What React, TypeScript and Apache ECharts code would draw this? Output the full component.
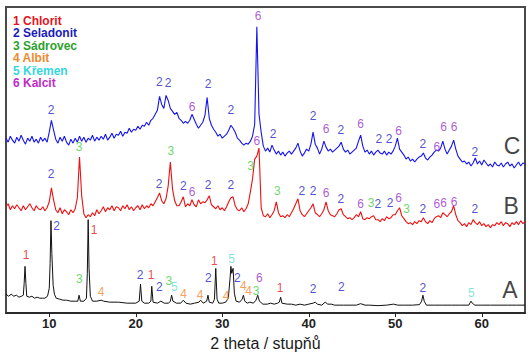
import React, { useEffect, useRef } from "react";
import * as echarts from "echarts";

// 2θ sampling grid for traces B and C (degrees)
const X_START = 5;
const X_STEP = 0.25;

// Trace C (blue), intensity (arbitrary units), one value per 0.25° from 5° to 65°
const C_VALUES = [
  176, 172, 178, 174, 171, 177, 173, 179, 174, 170, 176, 173, 178, 172, 175, 171,
  177, 173, 176, 172, 182, 194, 184, 175, 171, 177, 173, 178, 172, 169, 175, 171,
  176, 172, 178, 173, 177, 172, 176, 174, 179, 173, 177, 174, 178, 175, 180, 174,
  177, 181, 176, 180, 179, 183, 178, 182, 181, 186, 182, 185, 184, 188, 185, 189,
  188, 192, 189, 194, 196, 200, 204, 218, 210, 206, 219, 214, 206, 203, 200, 202,
  196, 194, 191, 193, 191, 194, 200, 195, 190, 186, 189, 192, 199, 217, 196, 189,
  185, 182, 178, 180, 176, 178, 180, 184, 189, 186, 182, 176, 174, 171, 169, 171,
  170, 173, 178, 190, 288, 200, 182, 168, 163, 166, 162, 169, 164, 160, 163, 159,
  162, 158, 161, 163, 160, 163, 166, 171, 163, 158, 161, 165, 163, 170, 182, 170,
  166, 160, 165, 173, 167, 163, 165, 162, 164, 166, 168, 172, 165, 162, 164, 160,
  162, 164, 166, 173, 179, 168, 162, 164, 160, 163, 159, 162, 164, 161, 160, 163,
  159, 162, 160, 163, 168, 176, 165, 162, 159, 155, 157, 153, 155, 152, 155, 157,
  158, 161, 156, 154, 157, 159, 162, 164, 163, 166, 173, 165, 160, 164, 168, 174,
  165, 158, 155, 152, 153, 150, 152, 148, 151, 156, 150, 153, 149, 154, 151, 148,
  150, 147, 152, 149, 148, 151, 147, 150, 152, 148, 150, 146, 149, 152, 148, 151,
  150,
];

// Trace B (red)
const B_VALUES = [
  107, 110, 104, 108, 105, 109, 106, 103, 108, 104, 107, 110, 106, 103, 108, 105,
  104, 107, 103, 106, 112, 126, 114, 104, 101, 106, 100, 104, 102, 99, 104, 101,
  105, 116, 157, 118, 100, 96, 99, 97, 101, 98, 104, 100, 103, 107, 102, 106,
  104, 108, 103, 107, 106, 103, 108, 105, 109, 104, 107, 103, 106, 108, 104, 109,
  105, 108, 106, 110, 108, 112, 116, 121, 113, 110, 115, 128, 152, 125, 113, 108,
  108, 112, 117, 107, 110, 108, 114, 109, 107, 114, 110, 112, 111, 114, 118, 109,
  107, 105, 108, 104, 106, 103, 107, 112, 116, 117, 108, 104, 103, 106, 102, 105,
  110, 122, 135, 155, 158, 166, 106, 98, 97, 100, 96, 99, 103, 112, 101, 97,
  98, 96, 99, 97, 101, 105, 110, 115, 103, 99, 97, 100, 103, 106, 110, 101,
  99, 97, 100, 104, 112, 103, 99, 98, 97, 100, 104, 105, 99, 97, 95, 96,
  94, 96, 99, 97, 102, 95, 94, 96, 95, 97, 98, 94, 94, 92, 95, 93,
  97, 95, 96, 99, 99, 103, 106, 98, 95, 92, 90, 91, 89, 92, 90, 93,
  92, 96, 92, 90, 93, 91, 95, 97, 98, 96, 101, 99, 97, 100, 102, 108,
  99, 93, 91, 88, 90, 87, 91, 89, 94, 91, 89, 92, 88, 90, 87, 89,
  86, 89, 88, 91, 89, 92, 88, 91, 90, 87, 91, 89, 92, 89, 93, 90,
  92,
];

// Trace A (black), [2θ, intensity]
const A_POINTS = [
  [5, 19], [5.3, 17], [5.6, 19], [5.9, 17], [6.2, 18], [6.5, 16], [6.8, 17], [7.0, 18],
  [7.1, 30], [7.2, 47], [7.3, 30], [7.4, 17], [7.7, 16], [8.0, 17], [8.3, 15], [8.6, 16],
  [8.9, 15], [9.2, 15], [9.5, 15], [9.8, 17], [10.0, 25], [10.1, 50], [10.2, 93], [10.3, 60],
  [10.45, 28], [10.6, 19], [10.8, 15], [11.2, 14], [11.6, 13], [12.0, 13], [12.5, 12], [13.0, 12],
  [13.3, 12], [13.45, 18], [13.6, 12], [14.0, 12], [14.3, 15], [14.4, 40], [14.5, 94], [14.6, 45],
  [14.75, 17], [15.0, 12], [15.5, 12], [16.0, 13], [16.3, 12], [17.0, 11], [18.0, 11], [19.0, 10],
  [20.0, 10], [20.4, 12], [20.55, 29], [20.7, 12], [21.0, 10], [21.5, 10], [21.75, 12], [21.85, 27],
  [22.0, 11], [22.5, 10], [22.9, 12], [23.3, 10], [23.8, 10], [24.0, 12], [24.15, 18], [24.3, 12],
  [24.7, 10], [25.2, 10], [25.5, 13], [25.8, 10], [26.3, 9], [26.8, 10], [27.3, 11], [27.5, 13],
  [27.8, 10], [28.2, 12], [28.35, 18], [28.5, 11], [28.9, 10], [29.1, 14], [29.25, 45], [29.4, 14],
  [29.6, 10], [30.0, 10], [30.4, 11], [30.7, 15], [30.9, 35], [31.0, 47], [31.1, 40], [31.25, 45],
  [31.4, 20], [31.6, 12], [32.0, 11], [32.3, 14], [32.45, 18], [32.6, 12], [32.9, 10], [33.2, 11],
  [33.6, 10], [33.9, 13], [34.1, 18], [34.3, 12], [34.7, 9], [35.2, 9], [35.6, 10], [36.0, 9],
  [36.4, 10], [36.6, 11], [36.75, 16], [36.9, 10], [37.5, 9], [38.0, 9], [38.5, 8], [39.0, 9],
  [39.5, 8], [40.0, 9], [40.5, 10], [40.75, 11], [41.0, 9], [41.5, 8], [41.9, 11], [42.2, 9],
  [42.6, 9], [43.0, 8], [43.5, 8], [44, 8], [45, 8], [45.5, 8], [46.0, 9.5], [46.5, 8],
  [47, 8], [48, 7.5], [49, 8], [49.8, 9], [50.3, 8], [51, 8], [52, 8], [52.8, 8.5],
  [53.05, 12], [53.2, 18], [53.35, 12], [53.6, 8], [54.5, 8], [55.5, 8], [56.5, 8], [57.5, 8],
  [58.5, 8], [58.75, 12], [58.9, 10], [59.2, 8], [60, 8], [61, 8], [62, 8], [63, 8],
  [64, 8], [65, 8],
];

// Phase markers: positions [2θ, height] for each phase number
const MARK_1 = [[7.31, 58], [15.17, 84], [21.76, 38], [29.08, 52], [36.68, 25]];
const MARK_2 = [
  [10.2, 204], [22.72, 233], [23.75, 232], [28.35, 231], [31.0, 204], [35.87, 180], [40.5, 198],
  [43.7, 184], [48.1, 175], [49.3, 175], [53.2, 170], [59.2, 162],
  [10.2, 140], [22.7, 130], [25.5, 128], [28.35, 129], [31.0, 129], [39.2, 123], [40.5, 123],
  [43.7, 115], [48.0, 110], [49.4, 111], [53.2, 105], [59.2, 105],
  [10.86, 88], [20.49, 38], [22.72, 26], [28.39, 35], [31.75, 35], [40.49, 24], [43.77, 26], [53.2, 25],
];
const MARK_3 = [
  [13.44, 167], [24.07, 163], [33.29, 148], [36.36, 123], [47.2, 111], [51.3, 105],
  [13.48, 34], [23.84, 32], [33.9, 22],
];
const MARK_4 = [[15.98, 21], [25.54, 19], [27.43, 18], [30.43, 17], [32.43, 27], [33.05, 22]];
const MARK_5 = [[24.46, 26], [31.09, 54], [58.8, 20]];
const MARK_6 = [
  [26.5, 207], [34.13, 299], [42.0, 185], [46.0, 190], [50.4, 183], [54.8, 167], [55.6, 187], [56.8, 187],
  [26.5, 122], [34.0, 173], [42.0, 121], [46.0, 110], [50.4, 116], [54.8, 110], [55.6, 111], [56.8, 112],
  [34.3, 35],
];

// Sample letters
const SAMPLE_NAMES = ["A", "B", "C"];
const SAMPLE_POS = [[63.27, 23], [63.4, 108], [63.5, 168]];

const X_TICKS = [10, 20, 30, 40, 50, 60];

const LEGEND = [
  { text: "1 Chlorit", color: "#e3141e" },
  { text: "2 Seladonit", color: "#1c1cb8" },
  { text: "3 Sádrovec", color: "#2ea02e" },
  { text: "4 Albit", color: "#f08a2c" },
  { text: "5 Křemen", color: "#36d6e0" },
  { text: "6 Kalcit", color: "#c02cc8" },
];

const FONT = '"Liberation Sans", Arial, sans-serif';

function onGrid(values: number[]) {
  return values.map((v, i) => [X_START + i * X_STEP, v]);
}

function markSeries(data: number[][], text: string, color: string) {
  return {
    type: "scatter",
    data,
    symbolSize: 1,
    itemStyle: { color: "rgba(0,0,0,0)" },
    silent: true,
    z: 5,
    label: {
      show: true,
      position: "inside",
      formatter: text,
      color,
      fontSize: 12,
      fontFamily: FONT,
    },
  };
}

export default function App() {
  const ref = useRef<HTMLDivElement>(null);
  useEffect(() => {
    if (!ref.current) return;
    const chart = echarts.init(ref.current, undefined, { renderer: "svg" });
    chart.setOption({
      animation: false,
      grid: {
        left: 6,
        right: 4,
        top: 7,
        bottom: 41,
        show: true,
        borderColor: "#4a4a4a",
        borderWidth: 2,
      },
      xAxis: {
        type: "value",
        min: 5,
        max: 65,
        name: "2 theta / stupňů",
        nameLocation: "middle",
        nameGap: 19,
        nameTextStyle: { fontSize: 16, color: "#1a1a1a", fontFamily: FONT },
        axisLine: { show: true, lineStyle: { color: "#222", width: 1.5 } },
        axisTick: { show: true, inside: false, length: 4, customValues: X_TICKS, lineStyle: { color: "#222" } },
        axisLabel: {
          customValues: X_TICKS,
          fontSize: 13,
          fontWeight: "bold",
          color: "#222",
          fontFamily: FONT,
          margin: 4,
        },
        splitLine: { show: false },
      },
      yAxis: {
        type: "value",
        min: 0,
        max: 308,
        show: false,
        splitLine: { show: false },
      },
      graphic: LEGEND.map((l, i) => ({
        type: "text",
        x: 13,
        y: 20.7 + i * 12.5,
        style: {
          text: l.text,
          fill: l.color,
          font: `bold 12px ${FONT}`,
          verticalAlign: "middle",
          align: "left",
        },
      })),
      series: [
        {
          type: "line",
          data: onGrid(C_VALUES),
          symbol: "none",
          lineStyle: { color: "#1414ee", width: 1.1 },
          z: 3,
        },
        {
          type: "line",
          data: onGrid(B_VALUES),
          symbol: "none",
          lineStyle: { color: "#ee1010", width: 1.1 },
          z: 3,
        },
        {
          type: "line",
          data: A_POINTS,
          symbol: "none",
          lineStyle: { color: "#111", width: 1 },
          z: 3,
          markLine: {
            silent: true,
            symbol: "none",
            label: { show: false },
            lineStyle: { color: "#2020d0", width: 1.5, type: "solid" },
            data: [[{ coord: [29.25, 35] }, { coord: [29.25, -3] }]],
          },
        },
        markSeries(MARK_1, "1", "#e31a1c"),
        markSeries(MARK_2, "2", "#2424c8"),
        markSeries(MARK_3, "3", "#40d040"),
        markSeries(MARK_4, "4", "#f5862e"),
        markSeries(MARK_5, "5", "#5ee0cc"),
        markSeries(MARK_6, "6", "#9a30c8"),
        {
          type: "scatter",
          data: SAMPLE_POS.map((p, i) => [p[0], p[1], SAMPLE_NAMES[i]]),
          symbolSize: 1,
          itemStyle: { color: "rgba(0,0,0,0)" },
          silent: true,
          label: {
            show: true,
            position: "inside",
            formatter: (p: any) => p.data[2],
            color: "#111",
            fontSize: 23,
            fontFamily: FONT,
          },
        },
      ],
    });
    return () => chart.dispose();
  }, []);
  return (
    <div
      ref={ref}
      style={{ position: "fixed", left: 0, top: 0, width: 529, height: 356, background: "#fff" }}
    />
  );
}
